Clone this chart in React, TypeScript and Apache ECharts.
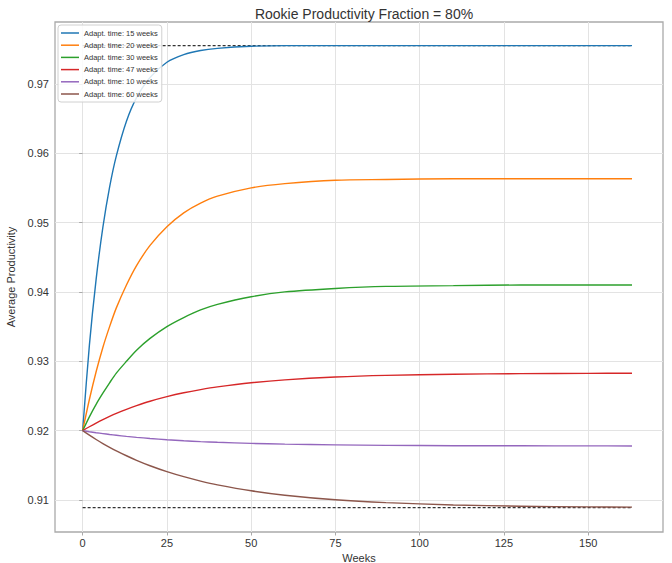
import React, { useEffect, useRef } from "react";
import * as echarts from "echarts";

const weeks = [0, 2, 4, 6, 8, 10, 13, 16, 20, 25, 30, 35, 40, 50, 60, 75, 90, 110, 130, 150, 163];

const seriesNames = [
  "Adapt. time: 15 weeks",
  "Adapt. time: 20 weeks",
  "Adapt. time: 30 weeks",
  "Adapt. time: 47 weeks",
  "Adapt. time: 10 weeks",
  "Adapt. time: 60 weeks",
];

const blueVals = [0.92, 0.9323, 0.9418, 0.9493, 0.9551, 0.9596, 0.9646, 0.968, 0.9709, 0.9731, 0.9742, 0.9748, 0.9751, 0.9754, 0.9755, 0.9755, 0.9755, 0.9755, 0.9755, 0.9755, 0.9755];
const orangeVals = [0.92, 0.9245, 0.9285, 0.932, 0.935, 0.9377, 0.941, 0.9438, 0.9467, 0.9494, 0.9514, 0.9528, 0.9538, 0.955, 0.9556, 0.9561, 0.9562, 0.9563, 0.9563, 0.9563, 0.9563];
const greenVals = [0.92, 0.922, 0.9238, 0.9254, 0.9269, 0.9283, 0.93, 0.9316, 0.9333, 0.935, 0.9363, 0.9374, 0.9382, 0.9393, 0.94, 0.9405, 0.9408, 0.9409, 0.941, 0.941, 0.941];
const redVals = [0.92, 0.92057, 0.9211, 0.9216, 0.92206, 0.92249, 0.92308, 0.92361, 0.92424, 0.9249, 0.92546, 0.92592, 0.92631, 0.92691, 0.92733, 0.92773, 0.92797, 0.92814, 0.92822, 0.92826, 0.92828];
const purpleVals = [0.92, 0.91985, 0.91971, 0.91958, 0.91945, 0.91934, 0.91918, 0.91904, 0.91888, 0.9187, 0.91855, 0.91843, 0.91833, 0.91817, 0.91806, 0.91795, 0.91789, 0.91784, 0.91782, 0.91781, 0.9178];
const brownVals = [0.92, 0.91935, 0.91873, 0.91815, 0.91761, 0.9171, 0.91639, 0.91573, 0.91495, 0.9141, 0.91337, 0.91274, 0.9122, 0.91134, 0.9107, 0.91004, 0.90963, 0.9093, 0.90912, 0.90902, 0.90898];

const allVals = [blueVals, orangeVals, greenVals, redVals, purpleVals, brownVals];
const colors = ["#1f77b4", "#ff7f0e", "#2ca02c", "#d62728", "#9467bd", "#8c564b"];

const upperLevel = 0.9755;
const lowerLevel = 0.9089;
const levelWeeks = [0, 163];

const xTicks = [0, 25, 50, 75, 100, 125, 150];
const yTicks = [0.91, 0.92, 0.93, 0.94, 0.95, 0.96, 0.97];

const xMin = -8.2;
const xMax = 172.2;
const yMin = 0.9054;
const yMax = 0.9789;

const FONT = "'Liberation Sans', Arial, sans-serif";

export default function App() {
  const ref = useRef<HTMLDivElement>(null);

  useEffect(() => {
    if (!ref.current) return;
    const chart = echarts.init(ref.current, null, { renderer: "svg" });

    const lineSeries = allVals.map((vals, i) => ({
      name: seriesNames[i],
      type: "line",
      data: weeks.map((w, j) => [w, vals[j]]),
      symbol: "none",
      smooth: 0.3,
      lineStyle: { color: colors[i], width: 1.4 },
      itemStyle: { color: colors[i] },
      z: 3,
    }));

    const dashed = [upperLevel, lowerLevel].map((lvl, i) => ({
      name: "level" + i,
      type: "line",
      data: levelWeeks.map((w) => [w, lvl]),
      symbol: "none",
      lineStyle: { color: "#333", width: 1.3, type: [3, 2] },
      z: 2,
      silent: true,
    }));

    chart.setOption({
      animation: false,
      backgroundColor: "#ffffff",
      title: {
        text: "Rookie Productivity Fraction = 80%",
        left: 359,
        top: 2,
        textAlign: "center",
        textStyle: { fontFamily: FONT, fontSize: 14, fontWeight: "normal", color: "#333" },
      },
      grid: {
        left: 55,
        right: 9,
        top: 22,
        bottom: 31,
        outerBoundsMode: "none",
        containLabel: false,
        show: true,
        borderColor: "#aaaaaa",
        borderWidth: 1.3,
        backgroundColor: "#ffffff",
      },
      legend: {
        data: seriesNames,
        orient: "vertical",
        left: 58,
        top: 25,
        icon: "rect",
        itemWidth: 18,
        itemHeight: 1.5,
        itemGap: 2.2,
        padding: [3, 4, 3, 3],
        backgroundColor: "rgba(255,255,255,0.85)",
        borderColor: "#d0d0d0",
        borderWidth: 1,
        borderRadius: 3,
        textStyle: { fontFamily: FONT, fontSize: 7.5, lineHeight: 10, color: "#333" },
      },
      xAxis: {
        type: "value",
        min: xMin,
        max: xMax,
        name: "Weeks",
        nameLocation: "middle",
        nameGap: 15,
        nameTextStyle: { fontFamily: FONT, fontSize: 11, color: "#333" },
        axisLine: { show: false },
        axisTick: { show: true, length: 3.5, lineStyle: { color: "#aaa" }, customValues: xTicks },
        axisLabel: {
          customValues: xTicks,
          fontFamily: FONT,
          fontSize: 11,
          color: "#333",
          margin: 5,
        },
        splitLine: { show: true, lineStyle: { color: "#e3e3e3", width: 1 } },
      },
      yAxis: {
        type: "value",
        min: yMin,
        max: yMax,
        name: "Average Productivity",
        nameLocation: "middle",
        nameGap: 37,
        nameTextStyle: { fontFamily: FONT, fontSize: 11, color: "#333" },
        axisLine: { show: false },
        axisTick: { show: true, length: 3.5, lineStyle: { color: "#aaa" }, customValues: yTicks },
        axisLabel: {
          customValues: yTicks,
          fontFamily: FONT,
          fontSize: 11,
          color: "#333",
          margin: 6,
          formatter: (v: number) => v.toFixed(2),
        },
        splitLine: { show: true, lineStyle: { color: "#e3e3e3", width: 1 } },
      },
      series: [...dashed, ...lineSeries],
    });

    return () => chart.dispose();
  }, []);

  return (
    <div
      ref={ref}
      style={{ position: "absolute", left: 0, top: 0, width: 672, height: 563 }}
    />
  );
}
